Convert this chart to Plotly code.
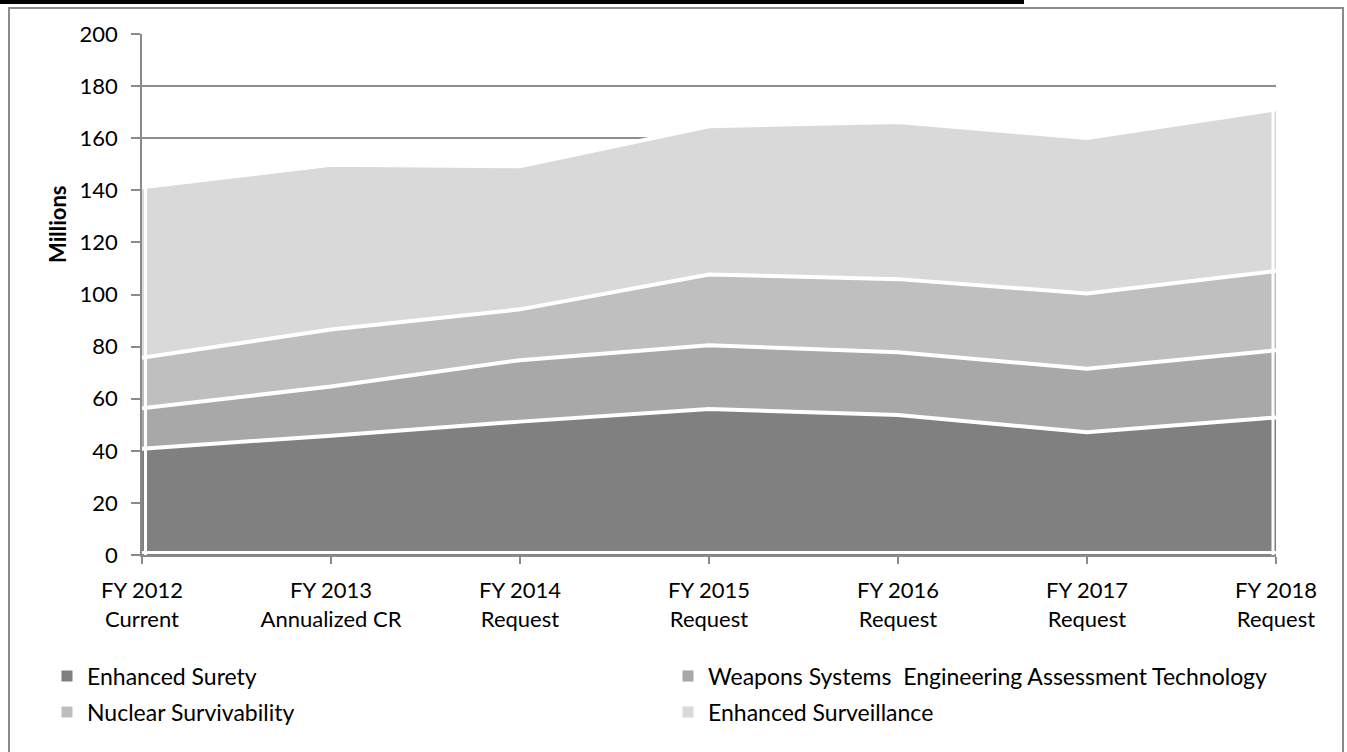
import plotly.graph_objects as go

categories = ["FY 2012<br>Current", "FY 2013<br>Annualized CR", "FY 2014<br>Request",
              "FY 2015<br>Request", "FY 2016<br>Request", "FY 2017<br>Request", "FY 2018<br>Request"]
enhanced_surety = [40.8, 45.8, 51.2, 56.0, 53.7, 47.1, 52.8]
weapons_seat = [15.5, 18.9, 23.6, 24.5, 24.1, 24.4, 25.8]
nuclear_surv = [19.4, 21.9, 19.5, 27.2, 28.1, 28.9, 30.4]
enhanced_surv = [65.5, 63.2, 54.9, 56.9, 60.3, 59.7, 62.1]
series_names = ["Enhanced Surety", "Weapons Systems  Engineering Assessment Technology",
                "Nuclear Survivability", "Enhanced Surveillance"]
colors = ["#808080", "#a8a8a8", "#bfbfbf", "#d9d9d9"]
y_ticks = list(range(0, 201, 20))

FONT = "Lato"
xs = list(range(len(categories)))
series = [enhanced_surety, weapons_seat, nuclear_surv, enhanced_surv]

fig = go.Figure()
for name, vals, col in zip(series_names, series, colors):
    fig.add_trace(go.Scatter(
        x=xs, y=vals, name=name, stackgroup="one", mode="lines",
        line=dict(color="white", width=4), fillcolor=col, showlegend=False,
        hoverinfo="skip"))

# legend entries (two rows)
legends = ["legend", "legend", "legend2", "legend2"]
for name, col, lg in zip(series_names, colors, legends):
    fig.add_trace(go.Scatter(
        x=[None], y=[None], name=name, mode="markers",
        marker=dict(symbol="square", size=11, color=col), legend=lg))

totals = [sum(v) for v in zip(*series)]

W0, W1, T0, T1 = 142, 1276, 34, 555
PW, PH = W1 - W0, T1 - T0
def px(x):
    return (x - W0) / PW
def py(y):
    return (T1 - y) / PH

shapes = [
    # outer border
    dict(type="rect", xref="paper", yref="paper", x0=px(9), x1=px(1343), y0=py(760), y1=py(8),
         line=dict(color="#8a8a8a", width=2), fillcolor="rgba(0,0,0,0)", layer="below"),
    # black bar at top
    dict(type="rect", xref="paper", yref="paper", x0=px(-2), x1=px(1024), y0=py(4), y1=py(-2),
         line=dict(width=0), fillcolor="black"),
    # white edges of the stacked area
    dict(type="line", xref="x", yref="y", xsizemode="pixel", xanchor=xs[0], x0=3.5, x1=3.5,
         y0=0, y1=totals[0], line=dict(color="white", width=3)),
    dict(type="line", xref="x", yref="y", xsizemode="pixel", xanchor=xs[-1], x0=-3, x1=-3,
         y0=0, y1=totals[-1], line=dict(color="white", width=3)),
    dict(type="line", xref="x", yref="y", ysizemode="pixel", yanchor=0, y0=2.5, y1=2.5,
         x0=xs[0], x1=xs[-1], line=dict(color="white", width=3)),
]

legend_common = dict(orientation="h", xanchor="left", yanchor="middle",
                     entrywidth=576, entrywidthmode="pixels",
                     font=dict(family=FONT, size=23), bgcolor="rgba(0,0,0,0)",
                     traceorder="normal")

fig.update_layout(
    width=1347, height=752,
    margin=dict(l=W0, r=1347 - W1, t=T0, b=752 - T1),
    paper_bgcolor="white", plot_bgcolor="white",
    font=dict(family=FONT, size=22, color="black"),
    shapes=shapes,
    xaxis=dict(range=[xs[0], xs[-1]], tickvals=xs, ticktext=categories, showgrid=False,
               showline=True, linecolor="#8a8a8a", linewidth=1.5, ticks="outside",
               ticklen=7, tickcolor="#8a8a8a", tickwidth=1.5, zeroline=False,
               ticklabelstandoff=8, tickfont=dict(family=FONT, size=22)),
    yaxis=dict(range=[0, 200], tickvals=y_ticks, showgrid=True, gridcolor="#8e8e8e",
               gridwidth=1.5, showline=True, linecolor="#8a8a8a", linewidth=1.5,
               ticks="outside", ticklen=9, tickcolor="#8a8a8a", tickwidth=1.5,
               zeroline=False, ticklabelstandoff=9, tickfont=dict(family=FONT, size=22)),
    annotations=[dict(text="<b>Millions</b>", xref="paper", yref="paper", x=px(58), y=py(225),
                      textangle=-90, showarrow=False, font=dict(family=FONT, size=22),
                      xanchor="center", yanchor="middle")],
    legend=dict(x=px(47), y=py(676), **legend_common),
    legend2=dict(x=px(47), y=py(712), **legend_common),
)

fig.write_html("out.html")
